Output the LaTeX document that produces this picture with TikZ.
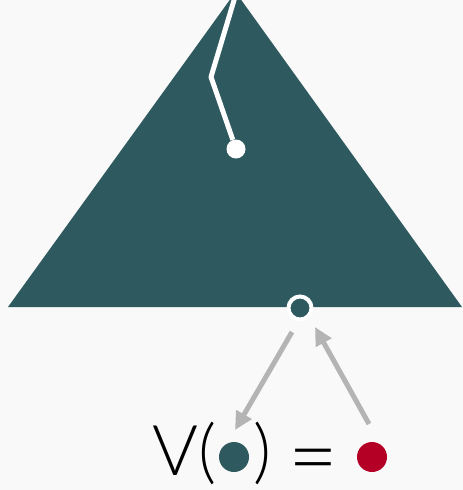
\documentclass[tikz,border=0pt]{standalone}
\usepackage{fontspec}
\setmainfont{Lato}[UprightFont=* Light]
\usetikzlibrary{arrows.meta}
\definecolor{pine}{RGB}{46,89,94}
\definecolor{crimson}{RGB}{181,0,38}
\definecolor{paper}{RGB}{249,249,249}
\definecolor{ash}{RGB}{180,180,180}

\begin{document}
\begin{tikzpicture}[x=1pt,y=-1pt,
txt/.style={anchor=base west,inner sep=0pt,font=\fontsize{70}{84}\selectfont},
dot/.style={circle,inner sep=0pt,minimum size=30pt},
arr/.style={-{Triangle[length=18pt,width=17pt]},line width=5pt,draw=ash}]

\fill[paper](0,0)rectangle(463,490);
\useasboundingbox(0,0)rectangle(463,490);
\clip(0,0)rectangle(463,490);
\fill[pine](8,307)--(235.5,-8)--(462,307)--cycle;
\coordinate(tip)at(235.3,-4);
\node[circle,fill=white,inner sep=0pt,minimum size=19pt](leaf)at(236,149){};
\draw[white,line width=5pt,line join=round](tip)--(211,77)--(leaf);
\node[circle,fill=pine,draw=white,line width=4pt,inner sep=0pt,minimum size=23pt](root)at(300,308){};
\node[txt](vl)at(152,475){V(};
\node[dot,fill=pine](arg)at(234,457){};
\node[txt](rp)at(253,475){)};
\node[txt,font=\fontsize{86}{100}\selectfont](eq)at(288,486){=};
\node[dot,fill=crimson](val)at(372,457){};
\draw[arr]([shift={(-8,24)}]root.center)--([shift={(1,-27)}]arg.center);
\draw[arr]([shift={(-3,-33)}]val.center)--([shift={(15,19)}]root.center);
\end{tikzpicture}
\end{document}
